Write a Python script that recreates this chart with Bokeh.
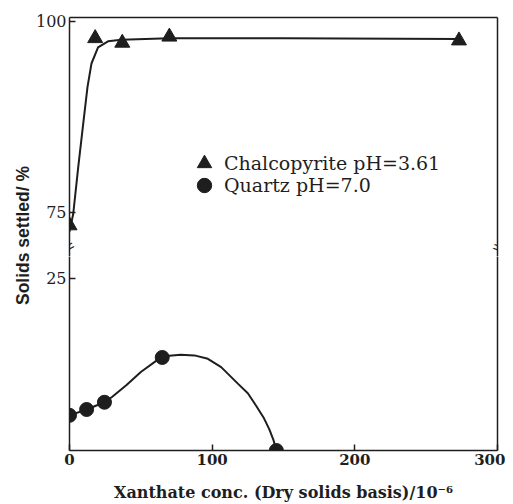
import math
from bokeh.plotting import figure
from bokeh.models import LinearAxis, FixedTicker, Legend, LegendItem, Label, Range1d
from bokeh.layouts import column, row
from bokeh.embed import file_html
from bokeh.resources import INLINE

# ---- data ----
chalco_x = [0, 18, 37, 70, 273]
chalco_y = [73.3, 97.8, 97.2, 98.0, 97.5]
chalco_curve_x = [0, 2.6, 6.1, 9.6, 12.6, 15.4, 20, 27, 36.4, 70, 150, 273]
chalco_curve_y = [72.5, 74.8, 80.9, 86.6, 91.4, 94.5, 96.6, 97.4, 97.6, 97.8, 97.8, 97.7]

quartz_x = [0, 12, 24.5, 65, 145]
quartz_y = [5.1, 5.95, 7.0, 13.5, 0.0]
quartz_curve_x = [0, 12, 24.5, 30, 40, 50, 60, 65, 70, 78, 87.6, 97, 106.3, 118, 125,
                  130.8, 136, 140, 143, 145]
quartz_curve_y = [5.1, 5.95, 7.0, 7.8, 9.5, 11.4, 12.9, 13.5, 13.75, 13.9, 13.8, 13.3,
                  12.1, 9.7, 8.3, 6.5, 4.8, 3.1, 1.5, 0.0]

x_ticks = [0, 100, 200, 300]
upper_ticks = [75, 100]
lower_ticks = [25]

chalco_label = "Chalcopyrite pH=3.61"
quartz_label = "Quartz pH=7.0"
x_title = "Xanthate conc. (Dry solids basis)/10\u207b\u2076"
y_title = "Solids settled/ %"

SERIF = "DejaVu Serif"
SANS = "Liberation Sans"
INK = "#1e1e1e"

x_rng = Range1d(0, 300)


def style_axis(ax, font_style="normal", size="16px"):
    ax.axis_line_color = INK
    ax.axis_line_width = 1.5
    ax.major_tick_line_color = INK
    ax.major_tick_line_width = 1.5
    ax.major_tick_in = 6
    ax.major_tick_out = 0
    ax.minor_tick_line_color = None
    ax.major_label_text_font = SERIF
    ax.major_label_text_font_size = size
    ax.major_label_text_font_style = font_style
    ax.major_label_text_color = INK
    ax.major_label_standoff = 3


def border_axis():
    ax = LinearAxis(ticker=FixedTicker(ticks=[]))
    ax.axis_line_color = INK
    ax.axis_line_width = 1.5
    ax.major_tick_line_color = None
    ax.minor_tick_line_color = None
    ax.major_label_text_font_size = "0px"
    return ax


LAB_W = 32
MAIN_W = 505 - LAB_W

# ---- upper panel ----
top = figure(width=MAIN_W, height=256, x_range=x_rng, y_range=Range1d(69.24, 100.52),
             output_backend="svg", toolbar_location=None,
             x_axis_location=None, y_axis_location=None,
             min_border_left=68 - LAB_W, min_border_right=8, min_border_top=17,
             min_border_bottom=0)
top.outline_line_color = None
top.grid.visible = False

ly = LinearAxis(ticker=FixedTicker(ticks=upper_ticks))
style_axis(ly)
top.add_layout(ly, "left")
top.add_layout(border_axis(), "above")
top.add_layout(border_axis(), "right")

top.line(chalco_curve_x, chalco_curve_y, line_width=2, line_color=INK)
r_c = top.scatter(chalco_x, chalco_y, marker="triangle", size=15, color=INK)
# quartz values fall outside the upper scale: this renderer only feeds the legend
r_q_leg = top.scatter(quartz_x, quartz_y, marker="circle", size=14, color=INK)


def make_legend(label, rend, loc):
    return Legend(items=[LegendItem(label=label, renderers=[rend])],
                  location=loc, orientation="vertical",
                  glyph_width=36, glyph_height=36, label_standoff=2,
                  padding=0, margin=0, border_line_color=None, background_fill_alpha=0,
                  label_text_font=SERIF, label_text_font_size="19px", label_text_color=INK)


top.add_layout(make_legend(chalco_label, r_c, (117, 75)))
top.add_layout(make_legend(quartz_label, r_q_leg, (117, 53)))

# break marks on the left and right borders
top.add_layout(Label(x=0, y=top.y_range.start, text="=", angle=0.5, text_align="center",
                     text_baseline="middle", y_offset=10, text_font=SANS, text_font_size="16px",
                     text_color=INK))
top.add_layout(Label(x=300, y=top.y_range.start, text="=", angle=-0.35, text_align="center",
                     text_baseline="middle", y_offset=9, text_font=SANS, text_font_size="16px",
                     text_color=INK))

# ---- lower panel ----
bot = figure(width=MAIN_W, height=248, x_range=x_rng, y_range=Range1d(0, 28.15),
             output_backend="svg", toolbar_location=None,
             x_axis_location=None, y_axis_location=None,
             min_border_left=68 - LAB_W, min_border_right=8, min_border_top=0,
             min_border_bottom=54)
bot.outline_line_color = None
bot.grid.visible = False

by = LinearAxis(ticker=FixedTicker(ticks=lower_ticks))
style_axis(by)
bot.add_layout(by, "left")
bx = LinearAxis(ticker=FixedTicker(ticks=x_ticks), axis_label=x_title)
style_axis(bx, "bold", "15px")
bx.axis_label_text_font = SERIF
bx.axis_label_text_font_size = "16px"
bx.axis_label_text_font_style = "bold"
bx.axis_label_text_color = INK
bx.axis_label_standoff = 15
bot.add_layout(bx, "below")
bot.add_layout(border_axis(), "right")

bot.line(quartz_curve_x, quartz_curve_y, line_width=2, line_color=INK)
bot.scatter(quartz_x, quartz_y, marker="circle", size=14, color=INK)

# ---- y title strip ----
lab = figure(width=LAB_W, height=504, x_range=Range1d(0, LAB_W), y_range=Range1d(0, 504),
             output_backend="svg", toolbar_location=None,
             x_axis_location=None, y_axis_location=None, min_border=0)
lab.outline_line_color = None
lab.grid.visible = False
lab.add_layout(Label(x=22, y=269, text=y_title, angle=math.pi / 2, text_align="center",
                     text_baseline="middle", text_font=SANS, text_font_size="17.5px",
                     text_font_style="bold", text_color=INK))

layout = row(lab, column(top, bot))

with open("out.html", "w") as f:
    f.write(file_html(layout, INLINE))
